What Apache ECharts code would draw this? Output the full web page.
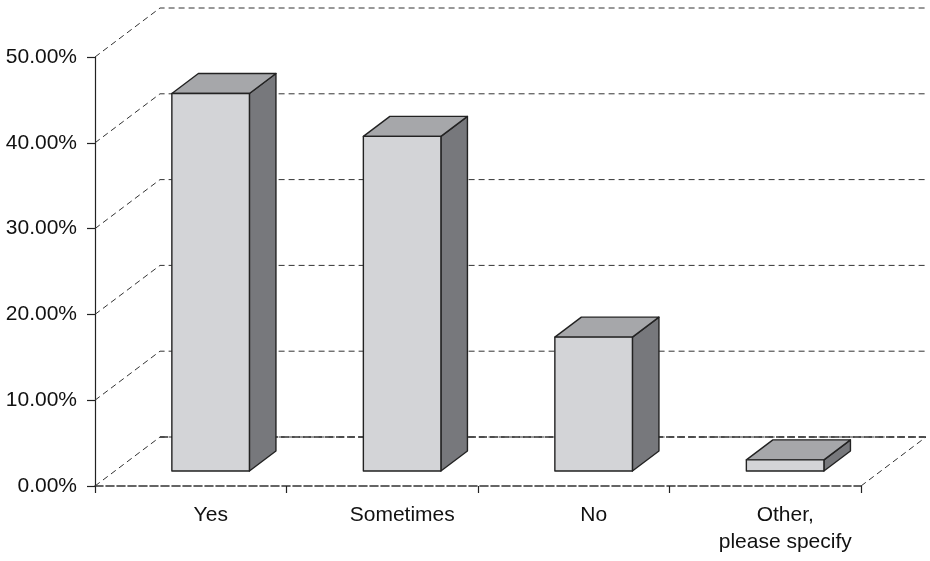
<!DOCTYPE html>
<html>
<head>
<meta charset="utf-8">
<script src="https://cdn.jsdelivr.net/npm/echarts@6/dist/echarts.min.js"></script>
<style>html,body{margin:0;padding:0;background:#fff}#c{width:930px;height:561px}</style>
</head>
<body>
<div id="c"></div>
<script>
const categories = ['Yes', 'Sometimes', 'No', 'Other,\nplease specify'];
const values = [0.44, 0.39, 0.156, 0.013];
const yTicks = [0, 0.1, 0.2, 0.3, 0.4, 0.5];

// 3D style (pixels)
const DX = 65, DY = -49;      // depth of the wall/floor
const F0 = 0.306, F1 = 0.714; // bar front/back depth fractions
const BAR_W = 0.405;          // fraction of category width
const FONT = 'Liberation Sans, Arial, sans-serif';

const chart = echarts.init(document.getElementById('c'));

function gridRender(params, api) {
  const cs = params.coordSys;
  const v = api.value(1);
  const y = api.coord([0, v])[1];
  const x0 = cs.x, x1 = cs.x + cs.width;
  const isFloor = v === 0;
  const children = [];
  const thin = { stroke: '#333', lineWidth: 1, lineDash: [6, 4], fill: null };
  children.push({ type: 'polyline', shape: { points: [[x0, y], [x0 + DX, y + DY], [x1 + DX, y + DY]] }, style: thin });
  if (isFloor) {
    children.push({ type: 'line', shape: { x1: x0 + DX, y1: y + DY, x2: x1 + DX, y2: y + DY },
      style: { stroke: '#333', lineWidth: 1.6, lineDash: [8, 3] } });
    children.push({ type: 'line', shape: { x1: x1, y1: y, x2: x1 + DX, y2: y + DY }, style: thin });
  }
  return { type: 'group', children: children };
}

function barRender(params, api) {
  const i = api.value(0), v = api.value(1);
  const base = api.coord([i, 0]);
  const top = api.coord([i, v]);
  const cw = api.size([1, 0])[0];
  const bw = cw * BAR_W;
  const fx = DX * F0, fy = DY * F0, bx = DX * F1, by = DY * F1;
  const xl = base[0] - bw / 2, xr = base[0] + bw / 2;
  const yb = base[1], yt = top[1];
  const stroke = { stroke: '#222', lineWidth: 1.4, lineJoin: 'round' };
  return {
    type: 'group',
    children: [
      { type: 'polygon', shape: { points: [[xr + fx, yt + fy], [xr + bx, yt + by], [xr + bx, yb + by], [xr + fx, yb + fy]] },
        style: Object.assign({ fill: '#77787c' }, stroke) },
      { type: 'polygon', shape: { points: [[xl + fx, yt + fy], [xr + fx, yt + fy], [xr + bx, yt + by], [xl + bx, yt + by]] },
        style: Object.assign({ fill: '#a6a7aa' }, stroke) },
      { type: 'rect', shape: { x: xl + fx, y: yt + fy, width: bw, height: yb - yt },
        style: Object.assign({ fill: '#d3d4d7' }, stroke) }
    ]
  };
}

chart.setOption({
  animation: false,
  backgroundColor: '#fff',
  grid: { left: 95, right: 69, top: 57, bottom: 75 },
  xAxis: {
    type: 'category',
    data: categories,
    boundaryGap: true,
    axisLine: { lineStyle: { color: '#333', width: 1.6, type: [8, 3] } },
    axisTick: { show: true, length: 7, lineStyle: { color: '#222', width: 1.2 } },
    axisLabel: { interval: 0, color: '#111', fontFamily: FONT, fontSize: 21, lineHeight: 27, margin: 16, padding: [0, 0, 0, 40] },
    splitLine: { show: false }
  },
  yAxis: {
    type: 'value',
    min: 0, max: 0.5, interval: 0.1,
    axisLine: { show: true, lineStyle: { color: '#222', width: 1.2 } },
    axisTick: { show: true, length: 8, lineStyle: { color: '#222', width: 1.2 } },
    axisLabel: { color: '#111', fontFamily: FONT, fontSize: 21, margin: 18, padding: [3, 0, 0, 0],
      formatter: function (v) { return (v * 100).toFixed(2) + '%'; } },
    splitLine: { show: false }
  },
  series: [
    { type: 'custom', renderItem: gridRender, data: yTicks.map(function (v) { return [0, v]; }), z: 1, silent: true, clip: false },
    { type: 'custom', renderItem: barRender, data: values.map(function (v, i) { return [i, v]; }), z: 5, silent: true, clip: false }
  ]
});
</script>
</body>
</html>
